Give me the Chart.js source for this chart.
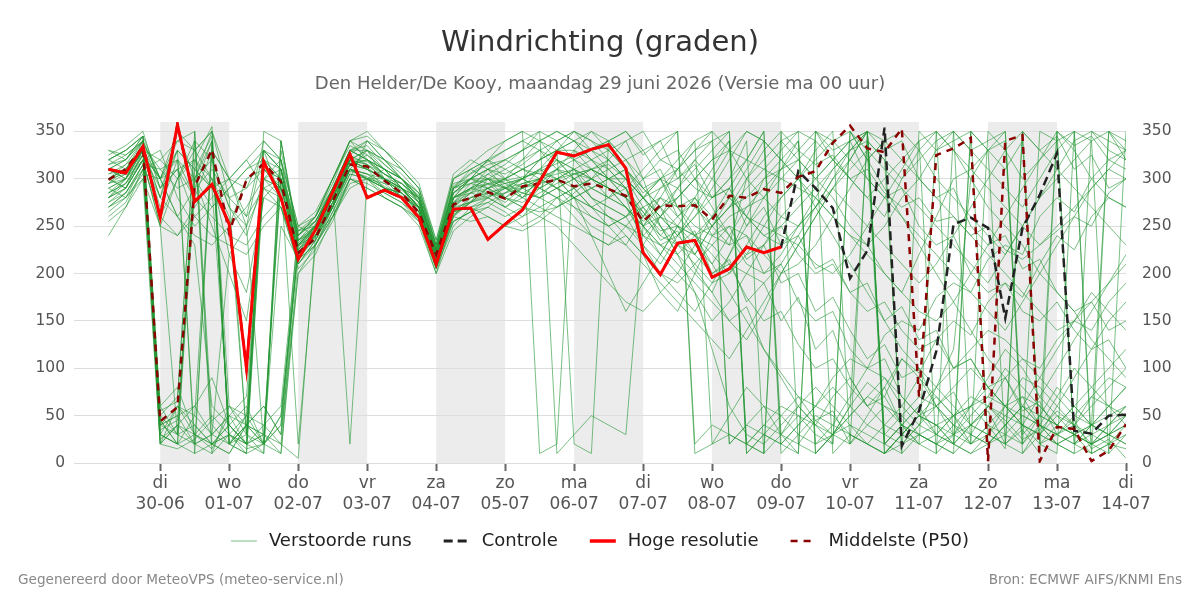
<!DOCTYPE html>
<html>
<head>
<meta charset="utf-8">
<title>Windrichting</title>
<script src="https://cdn.jsdelivr.net/npm/chart.js@4.4.1/dist/chart.umd.min.js"></script>
<style>
  html, body { margin: 0; padding: 0; background: #fff; }
  #wrap { width: 1200px; height: 600px; }
</style>
</head>
<body>
<div id="wrap"><canvas id="myChart" width="1200" height="600"></canvas></div>
<script>
// hours relative to di 30-06 00:00, every 6h
const hours = [-18,-12,-6,0,6,12,18,24,30,36, 42,48,54,60,66,72,78,84,90,96,
  102,108,114,120,126,132,138,144,150,156, 162,168,174,180,186,192,198,204,210,216,
  222,228,234,240,246,252,258,264,270,276, 282,288,294,300,306,312,318,324,330,336];

const tickHours = [0,24,48,72,96,120,144,168,192,216,240,264,288,312,336];
const dayNames = ['di','wo','do','vr','za','zo','ma','di','wo','do','vr','za','zo','ma','di'];
const dayDates = ['30-06','01-07','02-07','03-07','04-07','05-07','06-07','07-07','08-07','09-07','10-07','11-07','12-07','13-07','14-07'];
const shadedStarts = [0,48,96,144,192,240,288];
const yTicks = [0,50,100,150,200,250,300,350];

// Hoge resolutie (tot do 09-07)
const hres = [310,306,334,259,357,276,294,252,100,318, 280,215,246,286,326,280,288,280,259,210,
  268,269,236,252,267,297,328,324,331,336, 311,222,199,232,235,196,205,228,222,228];

// Controle
const control = [310,306,334,259,357,276,294,252,100,318, 280,215,246,286,326,280,288,280,259,210,
  268,269,236,252,267,297,328,324,331,336, 311,222,199,232,235,196,205,228,222,228,
  308,290,269,195,224,354,18,55,118,252, 259,248,153,248,283,327,34,31,50,51];

// Middelste (P50)
const p50 = [299,310,334,44,59,292,331,243,299,316, 297,222,237,276,315,313,298,285,264,220,
  273,280,286,279,292,295,299,292,295,289, 282,255,272,271,272,257,282,280,289,285,
  302,308,338,356,332,328,353,70,325,332, 343,2,340,346,2,38,36,2,13,41];

// Verstoorde runs
const run01 = [300,310,335,40,30,300,350,280,30,320, 300,230,250,280,320,310,300,290,270,215, 270,285,290,280,295,300,310,305,300,290, 280,260,280,270,250,240,230,300,320,340, 350,10,30,60,340,320,20,40,80,120, 300,330,20,10,40,350,330,300,280,270];
const run02 = [280,295,320,280,350,300,320,270,240,300, 290,220,235,270,330,330,315,300,280,220, 260,275,300,300,310,320,330,340,320,300, 300,270,240,230,220,250,270,280,300,310, 320,300,280,250,230,200,180,220,260,300, 310,330,350,10,30,50,40,30,20,15];
const run03 = [320,330,345,20,60,30,15,50,20,330, 310,240,260,300,340,320,300,280,270,210, 280,300,310,290,280,270,260,250,240,230, 250,230,210,240,260,280,300,340,10,30, 50,40,70,90,60,40,30,20,350,330, 300,270,250,230,200,180,160,130,110,90];
const run04 = [270,280,300,250,300,330,350,20,40,30, 10,200,230,260,290,300,310,300,275,225, 255,265,280,290,300,320,330,330,320,310, 290,250,230,240,270,300,330,350,340,320, 300,280,260,240,230,250,280,300,330,350, 20,40,60,40,30,20,10,350,340,330];
const run05 = [290,300,330,300,260,240,230,250,270,300, 320,250,240,260,300,340,330,310,290,230, 290,310,320,300,280,290,310,330,350,340, 320,290,300,310,330,350,20,40,60,50, 30,20,40,70,100,90,60,40,30,20, 40,60,50,40,30,60,90,120,150,170];
const run06 = [310,320,340,30,20,290,340,30,15,20, 250,215,240,275,310,300,290,285,265,205, 250,270,280,270,260,280,300,310,280,260, 240,220,200,190,210,230,250,240,220,200, 210,230,260,290,320,340,350,330,300,280, 260,240,220,250,280,310,340,350,330,320];
const run07 = [300,290,320,250,240,270,300,220,180,280, 270,210,230,265,300,290,280,270,250,200, 245,260,270,260,270,290,300,290,270,250, 260,280,300,320,340,350,330,300,280,260, 250,270,290,310,330,10,30,50,40,20, 350,330,340,20,50,80,60,40,30,50];
const run08 = [330,320,345,60,80,30,20,40,60,20, 40,230,250,290,330,320,310,290,280,220, 290,300,300,290,300,310,320,310,290,280, 300,250,220,200,180,150,170,200,230,260, 280,300,320,340,350,20,40,30,20,10, 30,60,40,20,350,340,20,40,60,80];
const run09 = [285,300,325,290,310,280,260,240,230,260, 280,225,245,280,310,305,295,280,260,210, 275,290,310,320,330,340,350,340,320,300, 290,240,220,250,230,210,240,270,290,310, 330,350,340,320,300,280,260,240,220,200, 180,160,140,170,200,230,260,290,310,300];
const run10 = [300,315,330,45,20,310,345,60,40,330, 280,220,250,270,320,315,305,295,275,215, 265,280,285,275,290,300,290,280,270,280, 270,240,230,220,240,260,280,260,240,230, 250,270,300,330,350,20,10,350,330,340, 350,20,40,60,50,40,30,40,50,60];
const run11 = [275,285,310,55,65,350,20,30,10,300, 290,230,240,285,325,340,320,300,285,230, 300,310,300,290,280,300,320,300,280,270, 260,230,260,280,300,320,340,10,30,20, 10,350,320,300,280,260,300,330,350,20, 40,30,20,40,70,100,130,160,190,220];
const run12 = [310,300,340,30,20,50,335,20,30,10, 330,240,255,290,320,310,300,295,280,225, 285,295,290,270,280,300,330,340,350,330, 310,290,270,250,240,230,210,200,190,210, 240,270,300,320,350,30,50,70,60,40, 20,350,330,300,320,340,350,20,30,40];
const run13 = [260,275,310,320,300,320,290,250,300,310, 300,205,225,255,300,295,285,275,255,200, 260,255,260,250,260,270,280,260,240,230, 240,220,180,160,200,240,260,270,280,300, 320,340,10,30,20,40,60,90,70,50, 60,40,30,20,40,70,100,80,60,40];
const run14 = [295,305,330,320,340,330,350,300,260,340, 320,250,260,295,340,330,320,310,290,235, 305,320,310,300,320,340,320,300,310,320, 300,280,290,300,320,300,280,260,250,240, 230,210,200,220,250,280,310,340,10,30, 60,90,120,100,70,50,30,20,10,350];
const run15 = [315,325,340,40,50,20,10,60,50,40, 60,245,250,280,315,320,305,290,270,212, 265,270,275,265,250,260,280,290,300,290, 280,300,320,310,290,280,300,320,350,20, 40,60,50,30,20,10,30,50,40,30, 20,30,50,70,60,40,30,20,30,20];
const run16 = [280,290,320,330,280,250,270,290,310,320, 310,215,230,265,305,300,290,280,262,205, 255,265,275,285,300,310,300,280,260,250, 260,270,250,230,210,190,200,220,250,280, 300,320,340,350,330,310,290,270,250,230, 210,190,220,250,280,300,320,340,350,330];
const run17 = [240,270,310,20,40,60,90,40,20,350, 340,235,245,275,315,310,290,285,268,220, 280,290,295,300,310,305,290,270,250,240, 230,260,290,310,330,340,350,20,40,60, 50,30,20,350,320,290,260,230,200,170, 140,110,90,60,40,30,50,70,60,50];
const run18 = [305,310,325,300,350,330,300,280,260,290, 300,240,260,300,335,325,310,300,285,230, 295,300,295,280,270,265,270,280,290,300, 310,290,270,280,300,320,330,320,310,300, 290,280,260,240,220,200,180,160,150,170, 200,230,260,290,320,350,20,40,60,80];
const run19 = [290,280,315,50,30,40,20,10,40,60, 30,200,220,260,300,290,280,270,258,208, 260,280,290,295,300,320,340,350,330,310, 290,260,240,260,280,260,240,220,230,250, 270,290,310,330,340,320,300,320,340,350, 330,310,290,270,300,330,350,10,20,40];
const run20 = [325,335,350,290,310,260,240,230,220,250, 270,220,240,270,310,300,295,290,270,218, 270,285,305,315,330,350,340,320,300,280, 270,250,230,210,190,170,150,130,160,200, 230,260,290,270,250,230,210,190,210,240, 270,300,330,350,20,30,40,60,80,100];
const run21 = [300,305,330,60,30,320,355,20,50,310, 290,230,245,280,320,330,320,305,285,228, 285,300,320,330,340,330,310,300,290,280, 290,310,330,350,20,40,30,20,10,340, 320,300,320,340,350,20,40,60,80,100, 120,140,130,110,90,70,50,40,30,40];
const run22 = [270,285,315,260,300,340,320,270,250,290, 270,210,235,270,310,305,300,290,270,215, 270,275,280,290,290,300,310,320,330,340, 350,330,300,270,240,220,200,230,260,280, 300,330,350,20,50,80,110,90,60,40, 30,20,40,60,90,120,150,180,160,140];
const run23 = [315,320,340,35,45,300,340,20,10,20, 50,225,240,275,315,320,310,290,265,210, 255,265,270,285,295,290,300,310,320,330, 340,300,250,220,200,180,220,260,300,320, 340,20,30,40,30,20,40,30,20,30, 50,70,100,80,60,40,60,80,100,120];
const run24 = [295,300,335,310,320,300,250,200,150,280, 300,235,255,290,330,320,305,295,280,225, 290,300,310,305,315,330,320,310,300,290, 270,250,260,280,300,270,240,210,200,220, 250,280,310,330,350,340,320,300,280,260, 240,220,200,180,160,140,150,170,190,210];
const run25 = [285,295,325,30,20,30,50,30,20,40, 20,230,250,285,320,310,300,290,275,222, 280,290,285,280,275,285,295,305,310,300, 280,230,200,180,160,190,220,250,280,310, 340,10,30,50,70,60,40,20,10,350, 330,340,350,30,50,40,30,20,40,60];
const run26 = [310,300,330,280,260,290,310,280,290,310, 290,225,250,280,315,325,310,300,275,215, 275,295,305,295,285,280,290,300,280,270, 260,280,300,290,270,250,270,290,310,330, 350,340,320,300,280,300,320,340,350,330, 310,290,270,250,230,250,270,290,310,330];
const run27 = [275,290,320,40,60,50,30,20,40,20, 10,215,230,270,310,300,285,275,260,210, 265,275,290,300,290,280,270,280,290,300, 310,280,250,220,180,120,60,30,20,40, 60,80,60,40,20,10,30,50,70,50, 30,20,30,50,40,30,20,30,40,50];
const run28 = [320,330,345,50,70,340,10,30,20,300, 310,245,260,290,330,335,315,300,280,225, 290,305,315,320,310,300,290,280,270,260, 250,240,260,290,320,340,20,40,30,20, 40,60,80,60,40,30,20,40,60,80, 100,80,60,40,30,20,30,40,350,320];
const run29 = [265,280,305,300,330,310,290,300,320,290, 280,220,240,270,310,300,290,285,270,218, 285,300,290,280,290,310,330,350,340,320, 300,280,260,240,260,290,320,350,340,320, 300,270,240,210,180,150,120,100,80,60, 40,30,20,350,330,310,290,270,250,230];
const run30 = [300,310,335,25,40,20,30,220,250,330, 310,235,250,285,325,315,300,290,270,220, 280,285,280,270,285,295,310,290,270,260, 250,270,280,260,240,210,180,150,120,90, 60,40,30,20,40,60,50,30,20,10, 350,330,310,340,20,40,60,40,30,20];
const run31 = [290,300,330,270,320,280,330,300,290,330, 320,210,235,275,310,330,300,280,260,215, 280,300,320,340,350,10,20,330,310,290, 270,250,280,310,340,20,50,80,60,30, 10,350,330,340,300,280,290,250,230,240, 200,180,190,160,150,170,140,120,130,100];
const run32 = [255,270,300,20,15,25,45,60,30,310, 300,20,230,260,295,300,280,270,255,205, 265,270,260,250,245,255,270,285,300,320, 340,350,320,330,300,280,290,260,240,250, 220,200,210,180,160,170,140,120,130,100, 110,80,60,70,40,20,30,10,350,340];
const run33 = [305,315,340,290,330,10,20,40,20,30, 300,235,250,290,20,300,300,290,280,225, 290,295,300,295,300,290,280,270,260,250, 230,210,190,170,150,130,110,140,170,200, 230,260,290,320,350,10,30,50,40,20, 10,30,60,90,80,60,40,20,30,50];
const run34 = [320,310,340,300,260,230,60,40,20,10, 340,240,255,285,320,330,310,290,275,222, 285,300,310,320,330,340,350,340,330,320, 300,280,260,250,240,250,270,300,330,350, 20,45,30,60,85,70,110,95,130,150, 135,170,190,175,210,240,225,260,280,270];
const run35 = [280,300,320,250,30,20,330,300,250,20, 50,225,245,270,310,305,290,280,270,215, 275,280,285,290,295,300,305,310,300,290, 280,255,270,230,245,200,215,170,190,150, 175,120,140,90,60,80,40,60,30,50, 20,40,15,350,330,345,310,325,290,300];
const run36 = [300,290,330,40,50,60,30,50,70,300, 280,228,248,282,318,312,298,288,272,218, 270,290,300,280,270,260,250,230,210,190, 170,160,180,200,230,260,290,320,350,30, 60,40,20,350,320,340,10,30,20,40, 60,80,60,40,20,10,350,340,10,30];
const run37 = [270,285,315,310,290,300,270,290,310,330, 310,220,240,280,315,310,300,285,265,212, 262,275,290,300,310,320,330,20,10,340, 320,300,310,270,280,250,230,240,200,210, 170,150,160,120,100,110,70,50,60,30, 40,60,45,25,35,55,40,70,90,80];
const run38 = [310,320,345,45,20,10,340,20,40,60, 30,240,260,300,340,350,330,310,290,230, 300,310,320,310,300,290,280,290,300,310, 320,330,340,350,10,20,30,20,10,350, 330,315,325,300,310,285,270,280,255,260, 240,250,225,215,230,245,260,250,285,300];
const run39 = [285,295,325,300,310,320,300,260,30,20, 340,232,252,288,322,318,305,295,278,224, 280,288,294,298,302,306,300,280,240,200, 160,190,220,250,280,310,340,20,40,30, 20,10,30,50,70,90,70,50,30,20, 10,20,40,60,40,20,10,20,40,60];
const run40 = [330,325,340,300,340,350,40,20,10,320, 300,245,255,290,330,320,310,300,282,226, 292,306,318,330,340,350,10,30,50,40, 30,250,270,290,310,330,350,10,30,50, 70,60,90,110,100,135,150,140,175,190, 180,215,230,220,260,280,265,300,320,310];
const run41 = [295,310,335,20,40,30,20,10,40,30, 20,5,240,270,305,300,290,280,265,208, 262,275,282,285,290,295,300,305,310,315, 300,280,260,240,220,250,280,310,340,10, 30,50,40,30,20,10,20,30,40,50, 60,70,60,50,40,30,20,10,20,30];
const run42 = [310,305,330,260,240,260,280,300,320,340, 320,230,250,290,330,340,320,300,280,220, 280,290,300,310,320,330,340,350,340,330, 310,285,300,260,275,240,250,215,230,190, 200,160,175,140,110,125,90,100,60,75, 40,55,20,35,10,350,335,345,320,330];
const run43 = [280,290,320,30,60,40,20,30,50,20, 300,220,245,280,320,315,300,285,270,218, 275,285,295,290,285,280,290,300,310,300, 290,265,235,245,205,180,150,165,120,95, 70,45,55,20,350,330,340,300,280,290, 250,230,240,205,215,180,160,170,140,150];
const run44 = [300,310,335,280,330,310,290,40,20,30, 310,215,238,272,308,302,292,282,266,214, 268,276,284,292,300,308,316,324,332,340, 350,325,340,300,315,280,290,250,270,230, 240,205,215,180,190,150,165,130,140,100, 110,80,90,55,65,30,45,15,25,5];
const run45 = [320,330,345,300,320,20,30,50,40,20, 40,250,265,300,340,345,330,315,295,235, 300,315,330,340,350,340,330,320,310,300, 280,265,245,250,220,200,210,175,150,160, 125,100,110,80,60,70,40,20,30,50, 70,60,90,110,100,130,150,140,170,190];

const runs = [run01,run02,run03,run04,run05,run06,run07,run08,run09,run10,
  run11,run12,run13,run14,run15,run16,run17,run18,run19,run20,
  run21,run22,run23,run24,run25,run26,run27,run28,run29,run30,
  run31,run32,run33,run34,run35,run36,run37,run38,run39,run40,
  run41,run42,run43,run44,run45];

const runColor = 'rgba(34,150,50,0.6)';

const legendItems = [
  {text: 'Verstoorde runs', color: 'rgba(34,150,50,0.6)', width: 1, dash: []},
  {text: 'Controle', color: '#222222', width: 3, dash: [9, 5]},
  {text: 'Hoge resolutie', color: '#ff0000', width: 3.5, dash: []},
  {text: 'Middelste (P50)', color: '#8b0000', width: 2.5, dash: [7, 6]}
];

const toPoints = arr => arr.map((v, i) => ({x: hours[i], y: v}));

const datasets = runs.map(r => ({
  label: 'Verstoorde runs',
  data: toPoints(r),
  borderColor: runColor,
  borderWidth: 1,
  pointRadius: 0,
  order: 5
}));
datasets.push({
  label: 'Controle', data: toPoints(control),
  borderColor: '#222222', borderWidth: 2.5, borderDash: [9, 5], pointRadius: 0, order: 3
});
datasets.push({
  label: 'Hoge resolutie', data: toPoints(hres),
  borderColor: '#ff0000', borderWidth: 3, pointRadius: 0, order: 1
});
datasets.push({
  label: 'Middelste (P50)', data: toPoints(p50),
  borderColor: '#8b0000', borderWidth: 2.5, borderDash: [7, 6], pointRadius: 0, order: 2
});

// white background + grey bands for alternating days
const bandsPlugin = {
  id: 'bands',
  beforeDraw(chart) {
    const c = chart.ctx, area = chart.chartArea, xs = chart.scales.x;
    c.save();
    c.fillStyle = '#ffffff';
    c.fillRect(0, 0, chart.width, chart.height);
    c.fillStyle = '#ececec';
    shadedStarts.forEach(s => {
      const x1 = Math.max(area.left, xs.getPixelForValue(s));
      const x2 = Math.min(area.right, xs.getPixelForValue(s + 24));
      c.fillRect(x1, area.top, x2 - x1, area.bottom - area.top);
    });
    c.restore();
  }
};

// legend row and footer texts
const footerPlugin = {
  id: 'footer',
  afterDraw(chart) {
    const c = chart.ctx;
    c.save();
    c.font = "18px 'DejaVu Sans', sans-serif";
    const boxW = 26, gap = 12, spacing = 32, yMid = 541;
    const widths = legendItems.map(it => boxW + gap + c.measureText(it.text).width);
    const total = widths.reduce((a, b) => a + b, 0) + spacing * (legendItems.length - 1);
    let x = 600 - total / 2;
    legendItems.forEach((it, i) => {
      c.beginPath();
      c.strokeStyle = it.color;
      c.lineWidth = it.width;
      c.setLineDash(it.dash);
      c.moveTo(x, yMid);
      c.lineTo(x + boxW, yMid);
      c.stroke();
      c.setLineDash([]);
      c.fillStyle = '#222';
      c.textBaseline = 'middle';
      c.textAlign = 'left';
      c.fillText(it.text, x + boxW + gap, yMid);
      x += widths[i] + spacing;
    });
    c.font = "13.6px 'DejaVu Sans', sans-serif";
    c.fillStyle = '#888';
    c.fillText('Gegenereerd door MeteoVPS (meteo-service.nl)', 18, 580);
    c.textAlign = 'right';
    c.fillText('Bron: ECMWF AIFS/KNMI Ens', 1182, 580);
    c.restore();
  }
};

Chart.defaults.font.family = "'DejaVu Sans', sans-serif";

const yTickSetter = s => { s.ticks = yTicks.map(v => ({value: v})); };

const ctx = document.getElementById('myChart').getContext('2d');
const chart = new Chart(ctx, {
  type: 'line',
  data: {datasets: datasets},
  options: {
    responsive: false,
    animation: false,
    layout: {padding: {left: 0, right: 0, top: 0, bottom: 85}},
    elements: {line: {tension: 0}},
    plugins: {
      legend: {display: false},
      tooltip: {enabled: false},
      title: {
        display: true, text: 'Windrichting (graden)', color: '#333',
        font: {size: 29, weight: 'normal'}, padding: {top: 26, bottom: 10}
      },
      subtitle: {
        display: true, text: 'Den Helder/De Kooy, maandag 29 juni 2026 (Versie ma 00 uur)', color: '#666',
        font: {size: 18, weight: 'normal'}, padding: {top: 3, bottom: 26.5}
      }
    },
    scales: {
      x: {
        type: 'linear', min: -30, max: 336,
        afterBuildTicks: s => { s.ticks = tickHours.map(v => ({value: v})); },
        afterFit: s => { s.height = 52; },
        ticks: {
          autoSkip: false, maxRotation: 0, color: '#555', padding: 2,
          font: {size: 17, lineHeight: 1.25},
          callback: v => { const k = tickHours.indexOf(v); return [dayNames[k], dayDates[k]]; }
        },
        grid: {drawOnChartArea: false, drawTicks: true, tickLength: 8, tickColor: '#666', tickWidth: 2},
        border: {display: false}
      },
      y: {
        position: 'left', min: 0, max: 360,
        afterBuildTicks: yTickSetter,
        afterFit: s => { s.width = 74; },
        ticks: {color: '#555', font: {size: 15.5}, padding: 9},
        grid: {color: '#dddddd', drawTicks: false},
        border: {display: false}
      },
      y2: {
        position: 'right', min: 0, max: 360,
        afterBuildTicks: yTickSetter,
        afterFit: s => { s.width = 74; },
        ticks: {color: '#555', font: {size: 15.5}, padding: 8},
        grid: {display: false},
        border: {display: false}
      }
    }
  },
  plugins: [bandsPlugin, footerPlugin]
});
</script>
</body>
</html>
